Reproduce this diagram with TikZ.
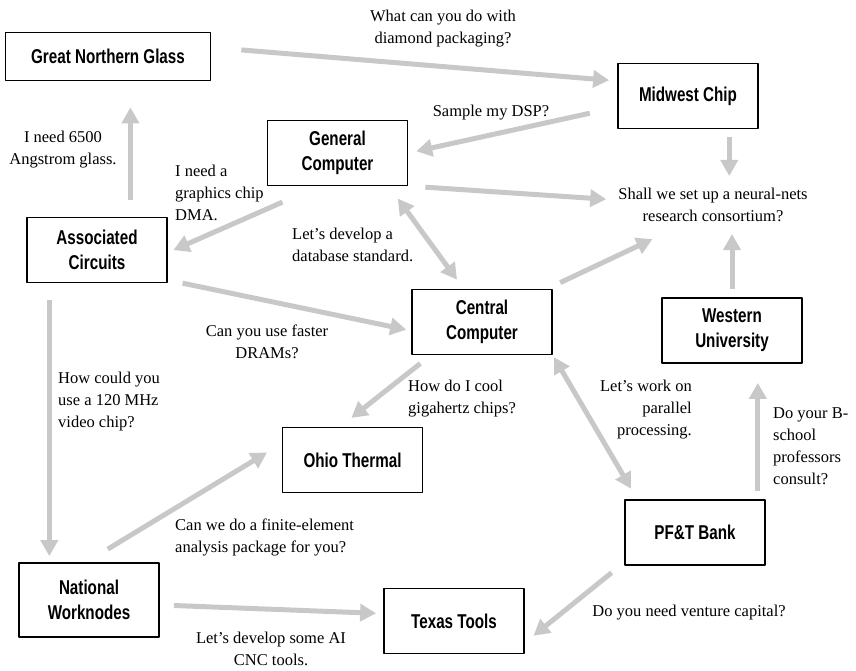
\documentclass[tikz,border=0pt]{standalone}
\usepackage{fontspec}
\setmainfont{Liberation Serif}
\newfontfamily\boxfont{Liberation Sans}[FakeStretch=0.76]
\usetikzlibrary{arrows.meta}
\definecolor{linkgray}{RGB}{200,200,200}
\begin{document}
\begin{tikzpicture}[x=1pt,y=-1pt,line join=round,
  box/.style={draw,line width=1.8pt,minimum width=140pt,minimum height=65pt,align=center,inner sep=2pt,
    font=\boxfont\bfseries\fontsize{20}{25}\selectfont},
  say/.style={inner sep=0pt,font=\fontsize{16.5}{22}\selectfont},
  link/.style={draw=linkgray,line width=5pt,-{Triangle[length=16pt,width=17pt]}},
  twoway/.style={draw=linkgray,line width=5pt,{Triangle[length=16pt,width=17pt]}-{Triangle[length=16pt,width=17pt]}}]
\useasboundingbox (0,0) rectangle (856,670);
\node[box,minimum width=205pt,minimum height=48pt] (gng) at (108,56.5) {Great Northern Glass};
\node[box] (gc) at (337.5,153) {General\\Computer};
\node[box] (ac) at (97,250) {Associated\\Circuits};
\node[box] (mc) at (688,96) {Midwest Chip};
\node[box] (cc) at (482,322) {Central\\Computer};
\node[box] (wu) at (732,330.5) {Western\\University};
\node[box] (ot) at (352.5,460) {Ohio Thermal};
\node[box,minimum height=74pt] (nw) at (89,600) {National\\Worknodes};
\node[box] (tt) at (454,621) {Texas Tools};
\node[box] (pb) at (695,532.5) {PF\&T Bank};
\node[say,align=center] (diam) at (443,29) {What can you do with\\diamond packaging?};
\node[say] (dsp) at (491,113) {Sample my DSP?};
\node[say,align=center] (shall) at (713,205) {Shall we set up a neural-nets\\research consortium?};
\node[say,align=center] (glass) at (63,150) {I need 6500\\Angstrom glass.};
\node[say,align=left,anchor=west] (dma) at (175,193) {I need a\\graphics chip\\DMA.};
\node[say,align=left,anchor=west] (dbstd) at (292,245) {Let’s develop a\\database standard.};
\node[say,align=center] (dram) at (267,342) {Can you use faster\\DRAMs?};
\node[say,align=left,anchor=west] (mhz) at (58,402) {How could you\\use a 120 MHz\\video chip?};
\node[say,align=left,anchor=west] (cool) at (408,399) {How do I cool\\gigahertz chips?};
\node[say,align=right,anchor=east] (par) at (692,410) {Let’s work on\\parallel\\processing.};
\node[say,align=left,anchor=west] (bsch) at (773,446) {Do your B-\\school\\professors\\consult?};
\node[say,align=left,anchor=west] (fem) at (175,537) {Can we do a finite-element\\analysis package for you?};
\node[say,align=center] (cnc) at (271,649) {Let’s develop some AI\\CNC tools.};
\node[say] (vc) at (689,613) {Do you need venture capital?};
\draw[link,shorten <=30pt,shorten >=8pt] (gng.5) -- (mc.168);
\draw[link,shorten <=28pt,shorten >=8pt] (mc.189) -- (gc.east);
\draw[link,shorten <=17pt,shorten >=12pt] (gc.-25) -- (shall.177);
\draw[link,shorten <=8pt,shorten >=12pt] (mc.-39.5) -- (mc.-39.5 |- shall.north);
\draw[link,shorten <=8pt,shorten >=12pt] (wu.north) -- (wu.north |- shall.south);
\draw[link,shorten <=14pt,shorten >=40pt] (cc.27) -- (shall.215);
\draw[twoway,shorten <=15pt,shorten >=11pt] (gc.-33) -- (cc.119);
\draw[link,shorten <=39pt,shorten >=6pt] (gc.240) -- (ac.-2);
\draw[link,shorten <=17pt,shorten >=26pt] (ac.45) -- (ac.45 |- gng.south);
\draw[link,shorten <=15pt,shorten >=5pt] (ac.-23) -- (cc.187);
\draw[link,shorten <=17pt,shorten >=6pt] (ac.215) -- (ac.215 |- nw.north);
\draw[link,shorten <=13pt,shorten >=14pt] (cc.213) -- (ot.110);
\draw[link,shorten <=25pt,shorten >=17pt] (nw.94) -- (ot.167);
\draw[link,shorten <=14pt,shorten >=7pt] (nw.-4.5) -- (tt.174);
\draw[link,shorten <=16pt,shorten >=11pt] (pb.203) -- (tt.-17);
\draw[twoway,shorten <=2pt,shorten >=12pt] (cc.south east) -- (pb.150);
\draw[link,shorten <=8pt,shorten >=19pt] (pb.28) -- (pb.28 |- wu.south);
\end{tikzpicture}
\end{document}
